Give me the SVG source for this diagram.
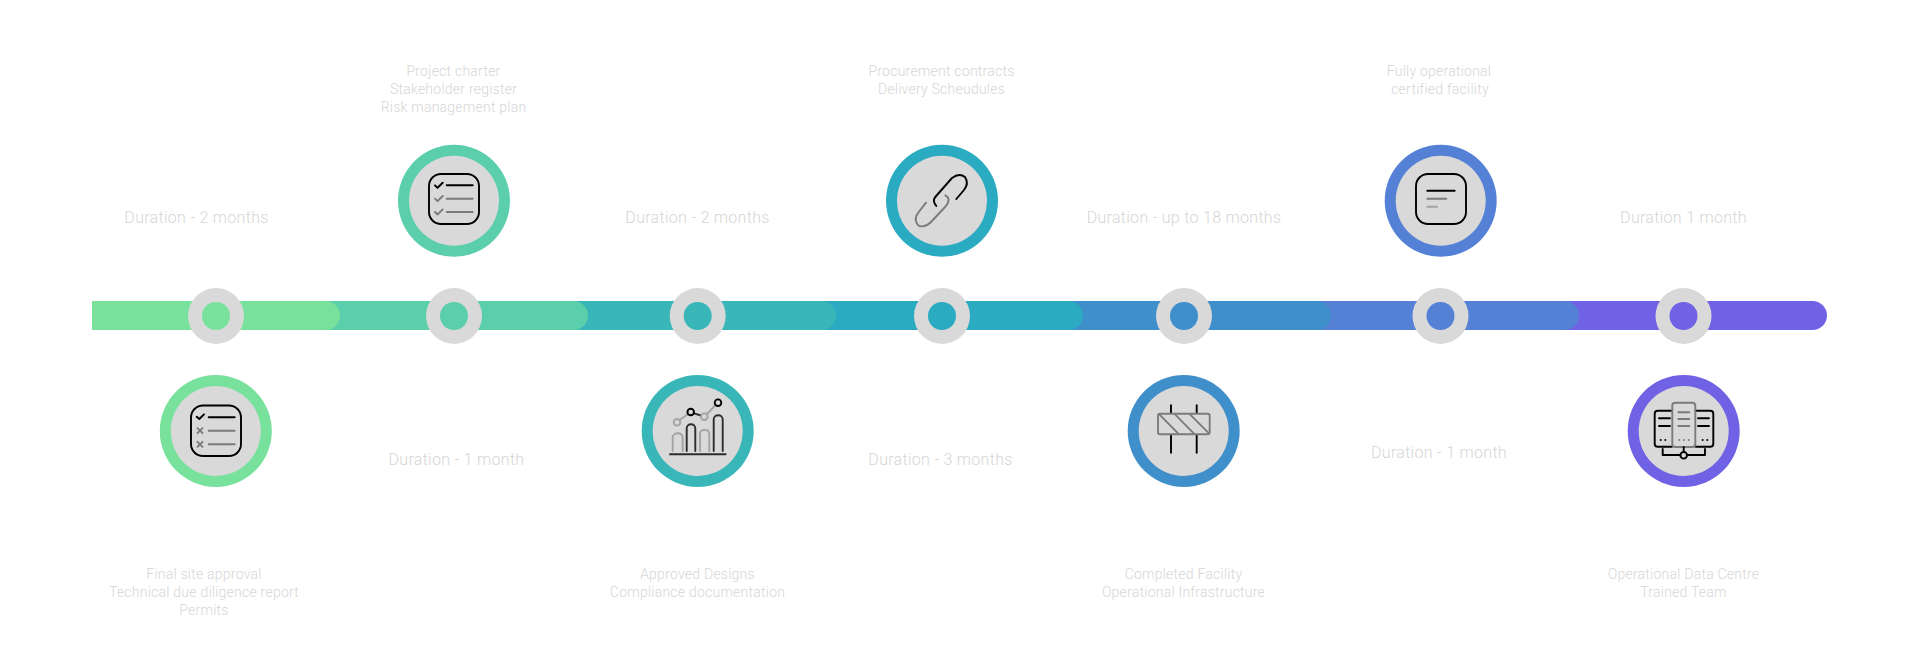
<svg xmlns="http://www.w3.org/2000/svg" width="1920" height="645" viewBox="0 0 1920 645">
<style>
text{font-family:Roboto,"Liberation Sans",sans-serif;font-weight:300;fill:#d6d6d6;text-anchor:middle}
.d{font-size:16px;letter-spacing:.3px}
.t{font-size:14px;letter-spacing:.24px}
.o{fill:#d9d9d9}
.k,.g,.l{fill:none;stroke-linecap:round;stroke-linejoin:round}
.k{stroke:#000;stroke-width:1.9}
.g{stroke:#7b7b7b;stroke-width:1.9}
.l{stroke:#a3a3a3;stroke-width:1.9}
.c1{fill:#78e29d}.c2{fill:#5bcfab}.c3{fill:#39b6b7}.c4{fill:#2aabc1}.c5{fill:#3f8fcb}.c6{fill:#5480d6}.c7{fill:#7062e4}
.dot{fill:#000}.gdot{fill:#7b7b7b}
</style>
<g id="connectors">
<rect class="c7" x="1300" y="301" width="527" height="29" rx="14.5"/>
<rect class="c6" x="1050" y="301" width="529" height="29" rx="14.5"/>
<rect class="c5" x="800" y="301" width="531" height="29" rx="14.5"/>
<rect class="c4" x="560" y="301" width="523" height="29" rx="14.5"/>
<rect class="c3" x="320" y="301" width="516" height="29" rx="14.5"/>
<rect class="c2" x="300" y="301" width="288" height="29" rx="14.5"/>
<path class="c1" d="M92 301H325.500A14.500 14.500 0 0 1 340 315.500A14.500 14.500 0 0 1 325.500 330H92Z"/>
</g>
<g id="node-1">
<circle class="o" cx="216" cy="316" r="28"/><circle class="c1" cx="216" cy="316" r="14"/>
<circle class="c1" cx="215.800" cy="431" r="56"/><circle class="o" cx="215.800" cy="431" r="45"/>
<rect class="k" x="191" y="405.500" width="50" height="50.500" rx="12"/>
<path class="k" d="M196.700 416.700L199.300 419L204 414.300M208.700 417.300H234.700"/>
<path class="g" d="M197.500 428.200L202.500 433.200M202.500 428.200L197.500 433.200M197.500 441.800L202.500 446.800M202.500 441.800L197.500 446.800M208.700 430.700H234.700M208.700 444.300H234.700"/>
<text class="t" x="204" y="579">Final site approval</text>
<text class="t" x="204" y="597">Technical due diligence report</text>
<text class="t" x="204" y="615">Permits</text>
</g>
<g id="duration-1"><text class="d" x="196.500" y="223">Duration - 2 months</text></g>
<g id="node-2">
<circle class="o" cx="454" cy="316" r="28"/><circle class="c2" cx="454" cy="316" r="14"/>
<circle class="c2" cx="454" cy="200.800" r="56"/><circle class="o" cx="454" cy="200.800" r="45"/>
<rect class="k" x="429" y="174" width="50" height="50" rx="12"/>
<path class="k" d="M435 185.300L437.500 187.800L442.700 182.700M446.700 185.300H472.700"/>
<path class="g" d="M435 198.700L437.500 201.200L442.700 196M446.700 198.700H472.700M435 212L437.500 214.500L442.700 209.400M446.700 212H472.700"/>
<text class="t" x="453.500" y="76">Project charter</text>
<text class="t" x="453.500" y="94">Stakeholder register</text>
<text class="t" x="453.500" y="112">Risk management plan</text>
</g>
<g id="duration-2"><text class="d" x="456.500" y="465">Duration - 1 month</text></g>
<g id="node-3">
<circle class="o" cx="697.700" cy="316" r="28"/><circle class="c3" cx="697.700" cy="316" r="14"/>
<circle class="c3" cx="697.700" cy="431" r="56"/><circle class="o" cx="697.700" cy="431" r="45"/>
<path class="l" d="M672.700 451V437.500A5 4.200 0 0 1 682.700 437.500V451M700 451V433.500A4.700 4.200 0 0 1 709.300 433.500V451"/>
<path class="k" style="stroke:#2c2c2c" d="M686.700 451V428.500A4.300 4.200 0 0 1 695.300 428.500V451M713.700 451V419.500A4.500 4.200 0 0 1 722.700 419.500V451M670 454.300H725.700"/>
<path class="l" d="M679.400 420L688.200 414M707 414L715.500 405"/>
<path class="k" style="stroke:#2c2c2c" d="M694 413.300L701 415.500"/>
<circle class="l" cx="677" cy="422.300" r="3.300"/><circle class="k" cx="690.700" cy="412" r="3.300"/>
<circle class="l" cx="704.300" cy="416.700" r="3.300"/><circle class="k" cx="718" cy="402.700" r="3.300"/>
<text class="t" x="697.500" y="579">Approved Designs</text>
<text class="t" x="697.500" y="597">Compliance documentation</text>
</g>
<g id="duration-3"><text class="d" x="697.500" y="223">Duration - 2 months</text></g>
<g id="node-4">
<circle class="o" cx="942" cy="316" r="28"/><circle class="c4" cx="942" cy="316" r="14"/>
<circle class="c4" cx="942" cy="200.800" r="56"/><circle class="o" cx="942" cy="200.800" r="45"/>
<path class="k" d="M956.300 199L964 190C968 185 967 180 965 177C961 174 956 175 952 178L937 195C932 200 934 203 936.300 206"/>
<path class="g" d="M926 202.700L918 213C914 218 916 224 919 226C923 227 927 226 931 222L946 206C950 201 949 197 945.300 195.300"/>
<text class="t" x="941.500" y="76">Procurement contracts</text>
<text class="t" x="941.500" y="94">Delivery Scheudules</text>
</g>
<g id="duration-4"><text class="d" x="940.500" y="465">Duration - 3 months</text></g>
<g id="node-5">
<circle class="o" cx="1184" cy="316" r="28"/><circle class="c5" cx="1184" cy="316" r="14"/>
<circle class="c5" cx="1183.700" cy="431" r="56"/><circle class="o" cx="1183.700" cy="431" r="45"/>
<path class="k" d="M1171 405.300V412.700M1196.700 405.300V412.700M1171 435V452.700M1196.700 435V452.700"/>
<rect class="g" x="1158" y="413.700" width="51.700" height="20.600" rx="2"/>
<path class="g" d="M1159.300 414.300L1178.300 433.700M1175 414.300L1194 433.700M1190 414.300L1209 433.300"/>
<text class="t" x="1183.500" y="579">Completed Facility</text>
<text class="t" x="1183.500" y="597">Operational Infrastructure</text>
</g>
<g id="duration-5"><text class="d" x="1184" y="223">Duration - up to 18 months</text></g>
<g id="node-6">
<circle class="o" cx="1440.500" cy="316" r="28"/><circle class="c6" cx="1440.500" cy="316" r="14"/>
<circle class="c6" cx="1440.700" cy="200.800" r="56"/><circle class="o" cx="1440.700" cy="200.800" r="45"/>
<rect class="k" x="1416" y="174" width="50" height="50" rx="12"/>
<path class="k" d="M1427.300 190.700H1454.700"/><path class="g" d="M1427.300 198.700H1446.300"/><path class="l" d="M1427.300 206.700H1437"/>
<text class="t" x="1439" y="76">Fully operational</text>
<text class="t" x="1440" y="94">certified facility</text>
</g>
<g id="duration-6"><text class="d" x="1439" y="458">Duration - 1 month</text></g>
<g id="node-7">
<circle class="o" cx="1683.500" cy="316" r="28"/><circle class="c7" cx="1683.500" cy="316" r="14"/>
<circle class="c7" cx="1683.700" cy="431" r="56"/><circle class="o" cx="1683.700" cy="431" r="45"/>
<path class="k" d="M1672 410.700H1657.700A3 3 0 0 0 1654.700 413.700V443.700A3 3 0 0 0 1657.700 446.700H1672M1695.500 410.700H1710.300A3 3 0 0 1 1713.300 413.700V443.700A3 3 0 0 1 1710.300 446.700H1695.500"/>
<rect class="g" x="1672.300" y="402.700" width="23" height="44.300" rx="3"/>
<path class="k" d="M1659 418.300H1670M1659 426H1670M1698 418.300H1709M1698 426H1709M1662.700 449V455H1680.400M1687 455H1705V449M1683.700 447V452"/>
<path class="g" d="M1678.300 412.300H1689.300M1678.300 419H1689.300M1678.300 426H1689.300"/>
<circle class="k" cx="1683.700" cy="455.300" r="3.300"/>
<circle class="dot" cx="1660.700" cy="440" r="1"/><circle class="dot" cx="1665.300" cy="440" r="1"/><circle class="dot" cx="1702.700" cy="440" r="1"/><circle class="dot" cx="1707.300" cy="440" r="1"/>
<circle class="gdot" cx="1679.300" cy="440" r="1"/><circle class="gdot" cx="1684" cy="440" r="1"/><circle class="gdot" cx="1688.700" cy="440" r="1"/>
<text class="t" x="1683.500" y="579">Operational Data Centre</text>
<text class="t" x="1683.500" y="597">Trained Team</text>
</g>
<g id="duration-7"><text class="d" x="1683.500" y="223">Duration 1 month</text></g>
</svg>
